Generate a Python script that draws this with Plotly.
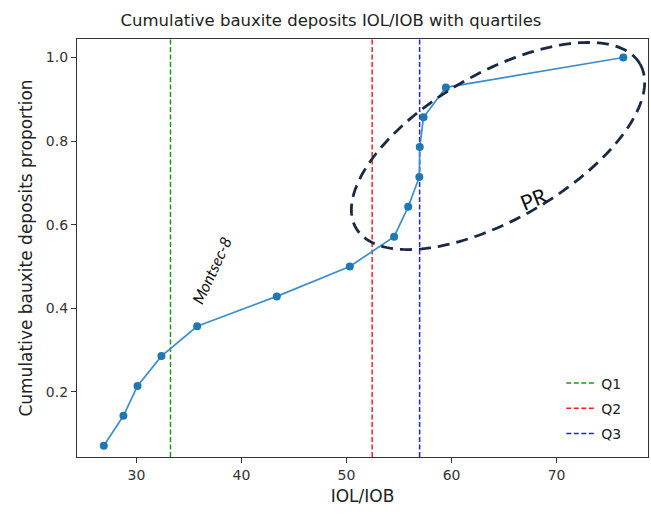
import numpy as np
import plotly.graph_objects as go

# ---- data ----
iol_iob = [26.89, 28.76, 30.10, 32.38, 35.78, 43.36, 50.31, 54.53,
           55.87, 56.93, 56.97, 57.33, 59.46, 76.35]
cum_prop = [1/14, 2/14, 3/14, 4/14, 5/14, 6/14, 7/14, 8/14,
            9/14, 10/14, 11/14, 12/14, 13/14, 14/14]
quartile_names = ["Q1", "Q2", "Q3"]
quartile_values = [33.24, 52.44, 56.96]
quartile_colors = ["#1a9a1a", "#ff2020", "#2020ff"]
x_ticks = [30, 40, 50, 60, 70]
y_ticks = [0.2, 0.4, 0.6, 0.8, 1.0]

# ---- layout geometry ----
W, H = 651, 515
ML, MR, MT, MB = 77, 3, 39, 58
PW, PH = W - ML - MR, H - MT - MB
XR = [24.34, 78.70]
YR = [0.0444, 1.0443]


def px_to_data(px, py):
    x = XR[0] + (px - ML) / PW * (XR[1] - XR[0])
    y = YR[1] - (py - MT) / PH * (YR[1] - YR[0])
    return x, y


fig = go.Figure()

for name, q, c in zip(quartile_names, quartile_values, quartile_colors):
    fig.add_trace(go.Scatter(
        x=[q, q], y=YR, mode="lines", name=name, legendgroup=name,
        line=dict(color=c, width=1.5, dash="5px,2.5px"),
    ))

fig.add_trace(go.Scatter(
    x=iol_iob, y=cum_prop, mode="lines+markers", showlegend=False,
    line=dict(color="#3b8ed0", width=1.7),
    marker=dict(color="#1f77b4", size=8),
))

# PR ellipse (annotation drawn in pixel space)
cx, cy, a, b, th = 498, 146, 164, 73, np.deg2rad(30)
t = np.linspace(0, 2 * np.pi, 200)
ex = cx + a * np.cos(t) * np.cos(th) - b * np.sin(t) * np.sin(th)
ey = cy - (a * np.cos(t) * np.sin(th) + b * np.sin(t) * np.cos(th))
pts = [px_to_data(u, v) for u, v in zip(ex, ey)]
path = "M " + " L ".join(f"{x:.4f},{y:.5f}" for x, y in pts) + " Z"
fig.add_shape(type="path", path=path, xref="x", yref="y",
              line=dict(color="#1b2a44", width=2.8, dash="12px,7px"),
              layer="above")

mx, my = px_to_data(211, 270)
fig.add_annotation(x=mx, y=my, xref="x", yref="y", text="<i>Montsec-8</i>",
                   showarrow=False, textangle=-65,
                   font=dict(family="Lato, Open Sans, sans-serif", size=16, color="#111"))
prx, pry = px_to_data(533, 198)
fig.add_annotation(x=prx, y=pry, xref="x", yref="y", text="PR",
                   showarrow=False, textangle=-22,
                   font=dict(family="Lato, Open Sans, sans-serif", size=21, color="#111"))

axis_common = dict(
    showgrid=False, zeroline=False, showline=True, mirror=True,
    linecolor="#333333", linewidth=1.2, ticks="outside", ticklen=5,
    tickcolor="#333333", tickwidth=1,
    tickfont=dict(family="DejaVu Sans", size=14, color="#333333"),
)

fig.update_layout(
    width=W, height=H,
    margin=dict(l=ML, r=MR, t=MT, b=MB),
    paper_bgcolor="white", plot_bgcolor="white",
    title=dict(text="Cumulative bauxite deposits IOL/IOB with quartiles",
               x=331 / W, xanchor="center",
               y=1 - 20 / H, yanchor="middle", yref="container",
               font=dict(family="DejaVu Sans", size=16.5, color="#222222")),
    xaxis=dict(range=XR, tickvals=x_ticks, ticktext=[str(v) for v in x_ticks],
               title=dict(text="IOL/IOB", standoff=8,
                          font=dict(family="DejaVu Sans", size=17, color="#222222")),
               **axis_common),
    yaxis=dict(range=YR, tickvals=y_ticks, ticktext=[f"{v:.1f}" for v in y_ticks],
               title=dict(text="Cumulative bauxite deposits proportion", standoff=8,
                          font=dict(family="DejaVu Sans", size=17, color="#222222")),
               **axis_common),
    legend=dict(x=0.962, y=0.018, xanchor="right", yanchor="bottom",
                bgcolor="rgba(255,255,255,0.8)", borderwidth=0,
                traceorder="grouped", tracegroupgap=4,
                font=dict(family="DejaVu Sans", size=14, color="#222222")),
    showlegend=True,
)

fig.write_html("out.html")
